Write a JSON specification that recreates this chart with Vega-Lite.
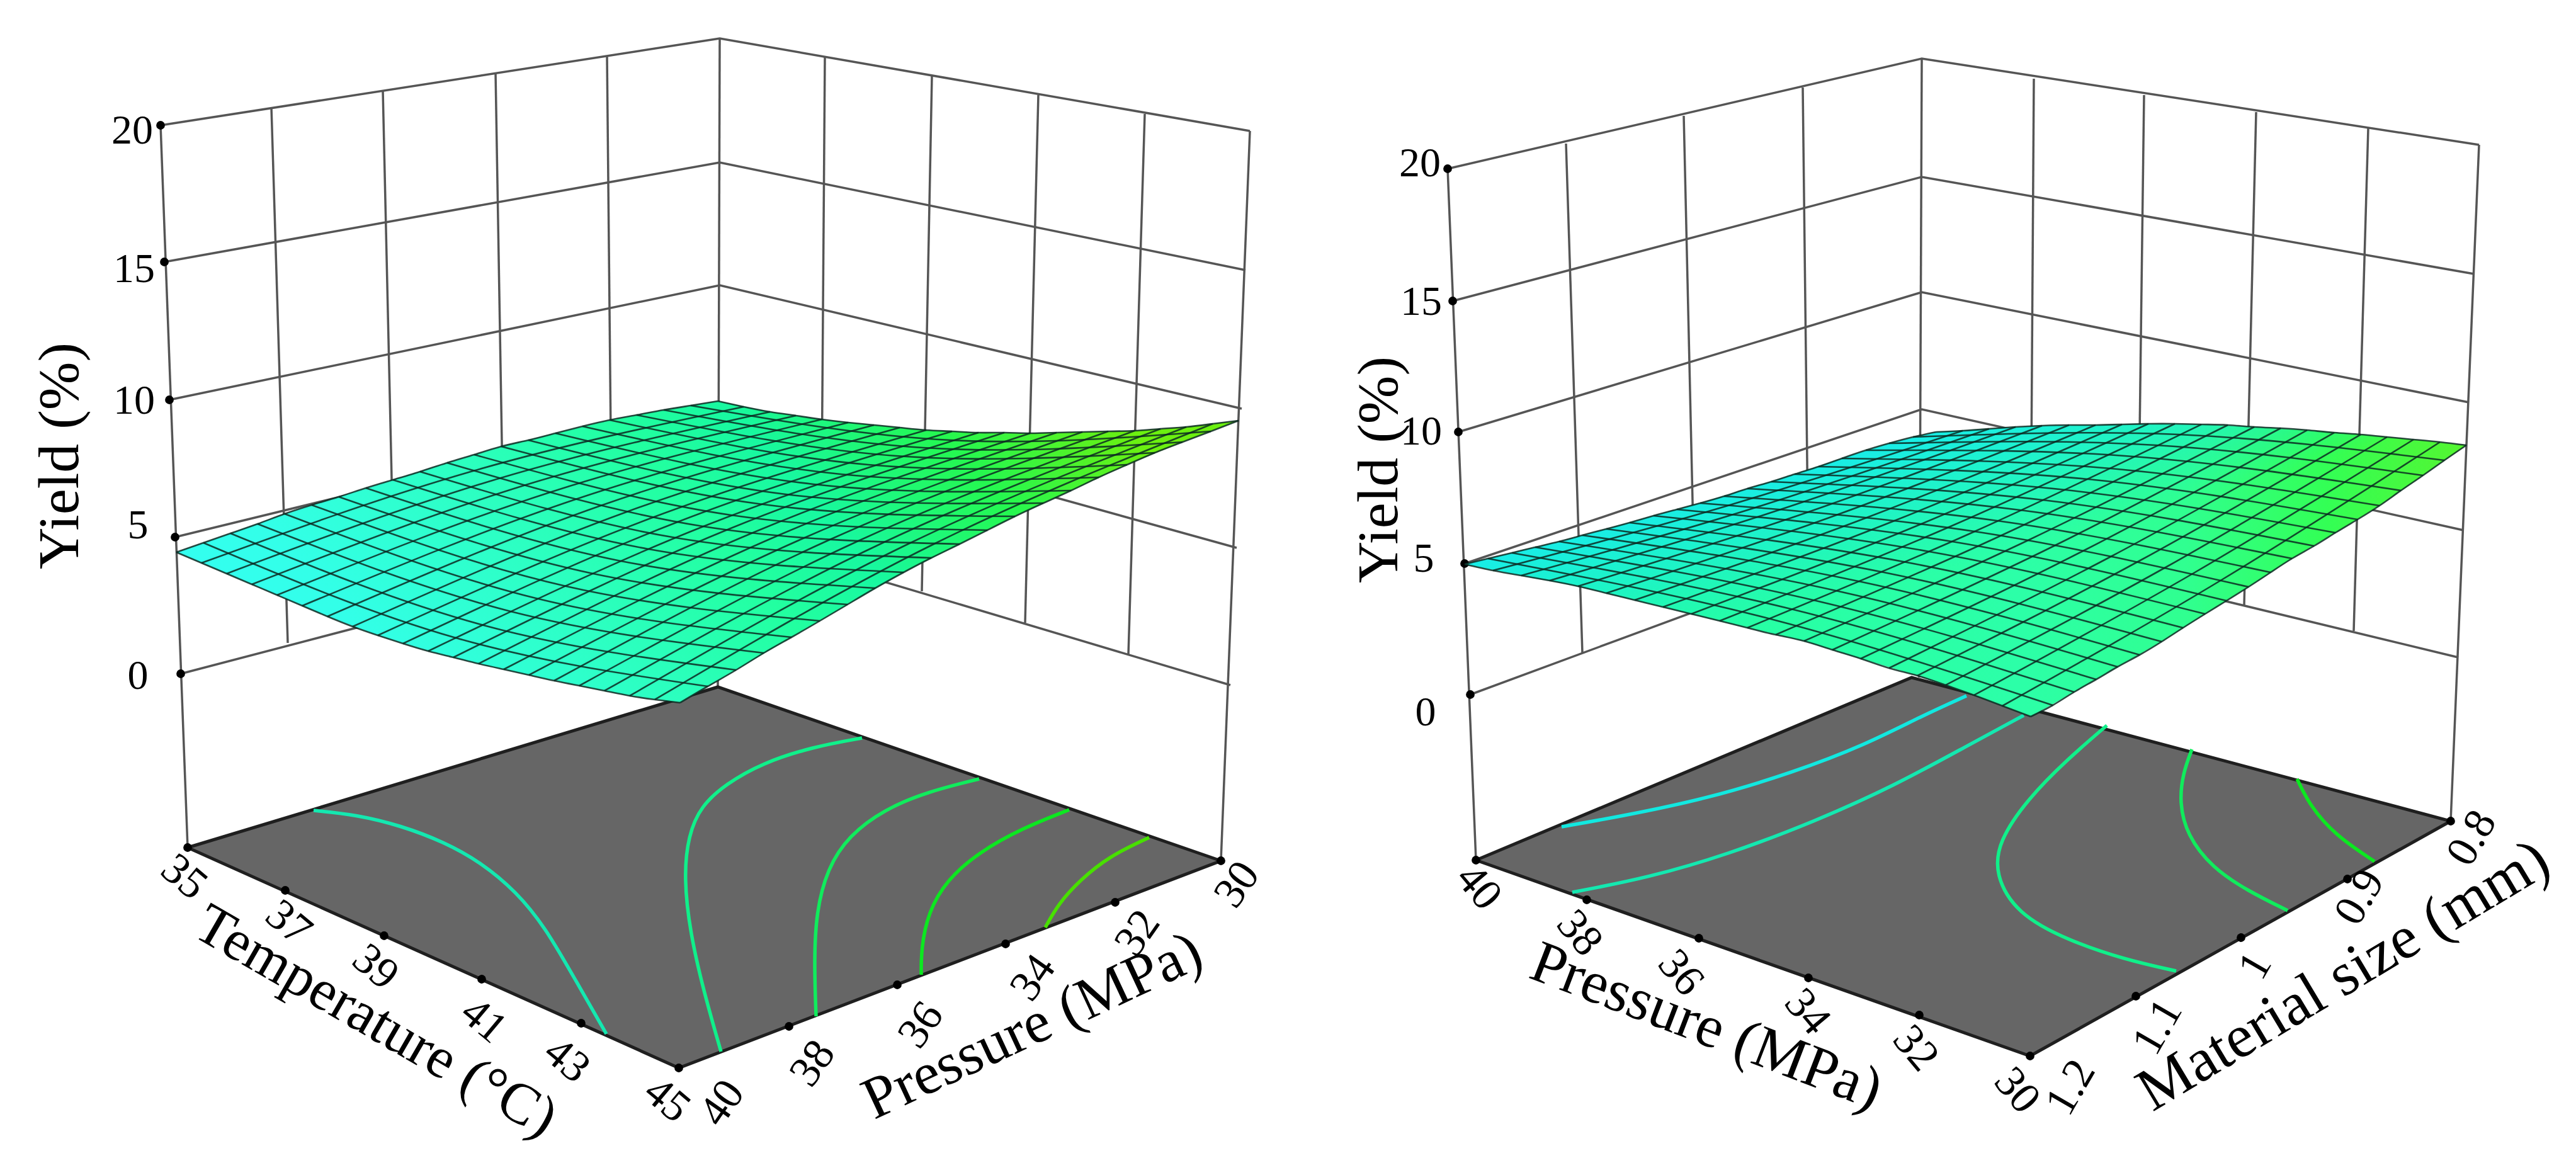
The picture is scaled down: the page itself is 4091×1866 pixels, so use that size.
{"$schema":"https://vega.github.io/schema/vega-lite/v6.json","width":4091,"height":1866,"autosize":{"type":"fit","contains":"padding"},"padding":0,"background":"white","config":{"view":{"stroke":null}},
"datasets":{
"walls":[
{"id":"a20","x":[255,1143,1985],"y":[199,61,208]},{"id":"a15","x":[261,1143,1978],"y":[416,258,429]},{"id":"a10","x":[269,1143,1972],"y":[635,453,649]},{"id":"a5","x":[278,1143,1964],"y":[853,642,870]},{"id":"a0","x":[287,1143,1954],"y":[1070,846,1088]},
{"id":"ae1","x":[255,298],"y":[199,1346]},{"id":"ae2","x":[1143,1140],"y":[61,1091]},{"id":"ae3","x":[1985,1939],"y":[208,1367]},
{"id":"av1","x":[431,457],"y":[171,1021]},{"id":"av2","x":[608,627],"y":[144,980]},{"id":"av3","x":[787,801],"y":[116,937]},{"id":"av4","x":[964,972],"y":[88,894]},{"id":"av5","x":[1310,1304],"y":[91,895]},{"id":"av6","x":[1480,1464],"y":[121,939]},{"id":"av7","x":[1649,1628],"y":[151,989]},{"id":"av8","x":[1818,1792],"y":[181,1039]},
{"id":"b20","x":[2299,3052,3937],"y":[268,93,230]},{"id":"b15","x":[2307,3052,3929],"y":[478,281,435]},{"id":"b10","x":[2316,3052,3921],"y":[686,464,639]},{"id":"b5","x":[2326,3052,3912],"y":[895,650,842]},{"id":"b0","x":[2335,3052,3904],"y":[1103,838,1044]},
{"id":"be1","x":[2299,2344],"y":[268,1366]},{"id":"be2","x":[3052,3048],"y":[93,1076]},{"id":"be3","x":[3937,3892],"y":[230,1304]},
{"id":"bv1","x":[2487,2513],"y":[228,1037]},{"id":"bv2","x":[2674,2692],"y":[184,971]},{"id":"bv3","x":[2863,2872],"y":[139,905]},{"id":"bv4","x":[3230,3225],"y":[125,879]},{"id":"bv5","x":[3405,3395],"y":[151,920]},{"id":"bv6","x":[3583,3564],"y":[178,961]},{"id":"bv7","x":[3761,3738],"y":[204,1002]}],
"floors":[{"id":"a","x":[298,1140,1939,1078,298],"y":[1346,1091,1367,1696,1346]},{"id":"b","x":[2344,3036,3892,3224,2344],"y":[1366,1076,1304,1677,1366]}],
"contours":[
{"id":"a1","level":"a","x":[498,567,636,705,763,820,866,912,963],"y":[1287,1294,1311,1337,1369,1416,1473,1553,1642]},
{"id":"a2","level":"b","x":[1369,1291,1210,1153,1113,1093,1086,1096,1118,1145],"y":[1172,1186,1212,1245,1280,1327,1393,1482,1576,1670]},
{"id":"a3","level":"c","x":[1555,1474,1405,1348,1314,1296,1293,1296],"y":[1237,1257,1285,1327,1379,1449,1529,1614]},
{"id":"a4","level":"d","x":[1698,1624,1555,1503,1474,1463,1463],"y":[1286,1315,1353,1398,1449,1506,1548]},
{"id":"a5","level":"e","x":[1825,1761,1715,1681,1660],"y":[1330,1360,1398,1435,1473]},
{"id":"b1","level":"f","x":[3123,3054,2962,2847,2709,2571,2480],"y":[1105,1136,1183,1227,1269,1297,1313]},
{"id":"b2","level":"a","x":[3214,3123,3008,2881,2744,2617,2497],"y":[1136,1185,1248,1305,1357,1394,1417]},
{"id":"b3","level":"b","x":[3346,3283,3220,3174,3168,3203,3283,3375,3456],"y":[1152,1206,1269,1336,1389,1451,1493,1524,1542]},
{"id":"b4","level":"c","x":[3481,3467,3461,3473,3513,3570,3633],"y":[1190,1227,1274,1326,1378,1415,1446]},
{"id":"b5","level":"d","x":[3648,3668,3708,3771],"y":[1237,1279,1326,1368]}],
"dots":[
{"x":255,"y":199},{"x":261,"y":416},{"x":269,"y":635},{"x":278,"y":853},{"x":287,"y":1070},
{"x":298,"y":1346},{"x":453,"y":1414},{"x":610,"y":1486},{"x":765,"y":1555},{"x":923,"y":1625},{"x":1078,"y":1696},{"x":1253,"y":1630},{"x":1425,"y":1564},{"x":1597,"y":1499},{"x":1771,"y":1433},{"x":1939,"y":1367},
{"x":2299,"y":268},{"x":2307,"y":478},{"x":2316,"y":686},{"x":2326,"y":895},{"x":2335,"y":1103},
{"x":2344,"y":1366},{"x":2520,"y":1429},{"x":2698,"y":1490},{"x":2872,"y":1553},{"x":3048,"y":1612},{"x":3224,"y":1677},{"x":3392,"y":1582},{"x":3559,"y":1489},{"x":3728,"y":1396},{"x":3892,"y":1304}],
"surfaceA":[{"id":"a","x":[280,366,452,538,624,710,796,882,968,1054,1140,1223,1305,1388,1471,1554,1636,1719,1802,1884,1967,1878,1790,1701,1612,1524,1435,1346,1257,1169,1080,1000,920,840,760,680,600,520,440,360,280],"y":[877,847,816,789,762,735,709,688,667,651,637,654,666,675,683,687,688,686,684,678,668,702,738,779,820,864,909,960,1012,1064,1116,1105,1089,1072,1054,1034,1009,979,945,911,877]}],
"surfaceB":[{"id":"b","x":[2326,2401,2476,2551,2626,2700,2775,2850,2925,3000,3075,3159,3243,3328,3412,3496,3580,3664,3749,3833,3917,3848,3779,3709,3640,3571,3502,3433,3363,3294,3225,3135,3045,2955,2865,2775,2686,2596,2506,2416,2326],"y":[896,878,860,840,819,799,776,753,728,704,686,681,676,675,673,674,678,683,690,698,707,755,803,846,887,932,975,1019,1059,1099,1138,1104,1073,1046,1018,997,975,953,931,914,896]}],
"mesh":[
{"id":"aU0","x":[280,323,366,409,452,495,538,581,624,667,710,753,796,839,882,925,968,1011,1054,1097,1140],"y":[877,862,847,832,816,802,789,775,762,749,735,722,709,699,688,677,667,659,651,644,637]},
{"id":"aU20","x":[1080,1124,1169,1213,1257,1302,1346,1390,1435,1479,1524,1568,1612,1657,1701,1745,1790,1834,1878,1923,1967],"y":[1116,1090,1064,1037,1012,986,960,934,909,886,864,842,820,799,779,758,738,719,702,685,668]},
{"id":"aV0","x":[280,320,360,400,440,480,520,560,600,640,680,720,760,800,840,880,920,960,1000,1040,1080],"y":[877,894,911,928,945,962,979,995,1009,1022,1034,1044,1054,1063,1072,1081,1089,1097,1105,1111,1116]},
{"id":"aV20","x":[1140,1181,1223,1264,1305,1347,1388,1429,1471,1512,1554,1595,1636,1678,1719,1760,1802,1843,1884,1926,1967],"y":[637,646,654,660,666,671,675,679,683,685,687,687,688,687,686,685,684,681,678,673,668]},
{"id":"aU1","x":[320,751,1181],"y":[894,748,646]},{"id":"aU2","x":[360,792,1223],"y":[911,760,654]},{"id":"aU3","x":[400,832,1264],"y":[928,771,660]},{"id":"aU4","x":[440,873,1305],"y":[945,782,666]},{"id":"aU5","x":[480,914,1347],"y":[962,793,671]},{"id":"aU6","x":[520,954,1388],"y":[979,803,675]},{"id":"aU7","x":[560,995,1429],"y":[995,813,679]},{"id":"aU8","x":[600,1036,1471],"y":[1009,822,683]},{"id":"aU9","x":[640,1076,1512],"y":[1022,829,685]},{"id":"aU10","x":[680,1117,1554],"y":[1034,836,687]},{"id":"aU11","x":[720,1158,1595],"y":[1044,840,687]},{"id":"aU12","x":[760,1198,1636],"y":[1054,845,688]},{"id":"aU13","x":[800,1239,1678],"y":[1063,849,687]},{"id":"aU14","x":[840,1280,1719],"y":[1072,853,686]},{"id":"aU15","x":[880,1320,1760],"y":[1081,856,685]},{"id":"aU16","x":[920,1361,1802],"y":[1089,860,684]},{"id":"aU17","x":[960,1402,1843],"y":[1097,862,681]},{"id":"aU18","x":[1000,1442,1884],"y":[1105,864,678]},{"id":"aU19","x":[1040,1483,1926],"y":[1111,864,673]},
{"id":"aV1","x":[323,724,1124],"y":[862,1013,1090]},{"id":"aV2","x":[366,768,1169],"y":[847,993,1064]},{"id":"aV3","x":[409,811,1213],"y":[832,971,1037]},{"id":"aV4","x":[452,855,1257],"y":[816,951,1012]},{"id":"aV5","x":[495,899,1302],"y":[802,931,986]},{"id":"aV6","x":[538,942,1346],"y":[789,911,960]},{"id":"aV7","x":[581,986,1390],"y":[775,891,934]},{"id":"aV8","x":[624,1030,1435],"y":[762,872,909]},{"id":"aV9","x":[667,1073,1479],"y":[749,854,886]},{"id":"aV10","x":[710,1117,1524],"y":[735,836,864]},{"id":"aV11","x":[753,1161,1568],"y":[722,818,842]},{"id":"aV12","x":[796,1204,1612],"y":[709,800,820]},{"id":"aV13","x":[839,1248,1657],"y":[699,785,799]},{"id":"aV14","x":[882,1292,1701],"y":[688,769,779]},{"id":"aV15","x":[925,1335,1745],"y":[677,753,758]},{"id":"aV16","x":[968,1379,1790],"y":[667,738,738]},{"id":"aV17","x":[1011,1423,1834],"y":[659,724,719]},{"id":"aV18","x":[1054,1466,1878],"y":[651,711,702]},{"id":"aV19","x":[1097,1510,1923],"y":[644,699,685]},
{"id":"bU0","x":[2326,2363,2401,2438,2476,2513,2551,2588,2626,2663,2700,2738,2775,2813,2850,2888,2925,2963,3000,3038,3075],"y":[896,887,878,869,860,850,840,830,819,809,799,788,776,765,753,741,728,715,704,694,686]},
{"id":"bU20","x":[3225,3260,3294,3329,3363,3398,3433,3467,3502,3536,3571,3606,3640,3675,3709,3744,3779,3813,3848,3882,3917],"y":[1138,1120,1099,1079,1059,1040,1019,997,975,954,932,909,887,867,846,825,803,779,755,731,707]},
{"id":"bV0","x":[2326,2371,2416,2461,2506,2551,2596,2641,2686,2731,2775,2820,2865,2910,2955,3000,3045,3090,3135,3180,3225],"y":[896,906,914,922,931,942,953,964,975,986,997,1008,1018,1032,1046,1061,1073,1088,1104,1121,1138]},
{"id":"bV20","x":[3075,3117,3159,3201,3243,3286,3328,3370,3412,3454,3496,3538,3580,3622,3664,3707,3749,3791,3833,3875,3917],"y":[686,684,681,678,676,675,675,674,673,673,674,675,678,680,683,687,690,694,698,702,707]},
{"id":"bU1","x":[2371,2744,3117],"y":[906,803,684]},{"id":"bU2","x":[2416,2788,3159],"y":[914,806,681]},{"id":"bU3","x":[2461,2831,3201],"y":[922,808,678]},{"id":"bU4","x":[2506,2875,3243],"y":[931,812,676]},{"id":"bU5","x":[2551,2919,3286],"y":[942,817,675]},{"id":"bU6","x":[2596,2962,3328],"y":[953,823,675]},{"id":"bU7","x":[2641,3006,3370],"y":[964,828,674]},{"id":"bU8","x":[2686,3049,3412],"y":[975,833,673]},{"id":"bU9","x":[2731,3093,3454],"y":[986,838,673]},{"id":"bU10","x":[2775,3136,3496],"y":[997,844,674]},{"id":"bU11","x":[2820,3179,3538],"y":[1008,850,675]},{"id":"bU12","x":[2865,3223,3580],"y":[1018,857,678]},{"id":"bU13","x":[2910,3266,3622],"y":[1032,865,680]},{"id":"bU14","x":[2955,3310,3664],"y":[1046,874,683]},{"id":"bU15","x":[3000,3354,3707],"y":[1061,883,687]},{"id":"bU16","x":[3045,3397,3749],"y":[1073,891,690]},{"id":"bU17","x":[3090,3441,3791],"y":[1088,900,694]},{"id":"bU18","x":[3135,3484,3833],"y":[1104,910,698]},{"id":"bU19","x":[3180,3528,3875],"y":[1121,921,702]},
{"id":"bV1","x":[2363,2812,3260],"y":[887,983,1120]},{"id":"bV2","x":[2401,2848,3294],"y":[878,968,1099]},{"id":"bV3","x":[2438,2884,3329],"y":[869,954,1079]},{"id":"bV4","x":[2476,2920,3363],"y":[860,939,1059]},{"id":"bV5","x":[2513,2956,3398],"y":[850,924,1040]},{"id":"bV6","x":[2551,2992,3433],"y":[840,909,1019]},{"id":"bV7","x":[2588,3028,3467],"y":[830,893,997]},{"id":"bV8","x":[2626,3064,3502],"y":[819,876,975]},{"id":"bV9","x":[2663,3100,3536],"y":[809,860,954]},{"id":"bV10","x":[2700,3136,3571],"y":[799,844,932]},{"id":"bV11","x":[2738,3172,3606],"y":[788,827,909]},{"id":"bV12","x":[2775,3208,3640],"y":[776,810,887]},{"id":"bV13","x":[2813,3244,3675],"y":[765,794,867]},{"id":"bV14","x":[2850,3280,3709],"y":[753,778,846]},{"id":"bV15","x":[2888,3316,3744],"y":[741,761,825]},{"id":"bV16","x":[2925,3352,3779],"y":[728,744,803]},{"id":"bV17","x":[2963,3388,3813],"y":[715,725,779]},{"id":"bV18","x":[3000,3424,3848],"y":[704,707,755]},{"id":"bV19","x":[3038,3460,3882],"y":[694,690,731]}],
"labels":[
{"t":"20","axis":"z","x":210,"y":208},{"t":"15","axis":"z","x":213,"y":428},{"t":"10","axis":"z","x":213,"y":637},{"t":"5","axis":"z","x":219,"y":835},{"t":"0","axis":"z","x":219,"y":1074},
{"t":"Yield (%)","axis":"zt","x":96,"y":724},
{"t":"35","axis":"temp","x":292,"y":1393},{"t":"37","axis":"temp","x":458,"y":1466},{"t":"39","axis":"temp","x":596,"y":1536},{"t":"41","axis":"temp","x":768,"y":1621},{"t":"43","axis":"temp","x":900,"y":1684},{"t":"45","axis":"temp","x":1059,"y":1747},
{"t":"40","axis":"pa","x":1147,"y":1752},{"t":"38","axis":"pa","x":1291,"y":1689},{"t":"36","axis":"pa","x":1463,"y":1628},{"t":"34","axis":"pa","x":1641,"y":1553},{"t":"32","axis":"pa","x":1807,"y":1482},{"t":"30","axis":"pa","x":1965,"y":1405},
{"t":"Temperature (°C)","axis":"tt","x":597,"y":1622},{"t":"Pressure (MPa)","axis":"tpa","x":1640,"y":1630},
{"t":"20","axis":"z","x":2255,"y":260},{"t":"15","axis":"z","x":2257,"y":480},{"t":"10","axis":"z","x":2257,"y":686},{"t":"5","axis":"z","x":2261,"y":888},{"t":"0","axis":"z","x":2264,"y":1132},
{"t":"Yield (%)","axis":"zt","x":2191,"y":746},
{"t":"40","axis":"pb","x":2348,"y":1409},{"t":"38","axis":"pb","x":2508,"y":1482},{"t":"36","axis":"pb","x":2669,"y":1545},{"t":"34","axis":"pb","x":2870,"y":1607},{"t":"32","axis":"pb","x":3042,"y":1665},{"t":"30","axis":"pb","x":3203,"y":1732},
{"t":"1.2","axis":"m","x":3289,"y":1727},{"t":"1.1","axis":"m","x":3427,"y":1631},{"t":"1","axis":"m","x":3582,"y":1534},{"t":"0.9","axis":"m","x":3748,"y":1425},{"t":"0.8","axis":"m","x":3926,"y":1331},
{"t":"Pressure (MPa)","axis":"tpb","x":2710,"y":1630},{"t":"Material size (mm)","axis":"tm","x":3722,"y":1550}]
},
"encoding":{"x":{"field":"x","type":"quantitative","scale":{"domain":[0,4091],"nice":false,"zero":false},"axis":null},"y":{"field":"y","type":"quantitative","scale":{"domain":[0,1866],"reverse":true,"nice":false,"zero":false},"axis":null}},
"layer":[
{"data":{"name":"walls"},"transform":[{"flatten":["x","y"]},{"window":[{"op":"row_number","as":"k"}],"groupby":["id"]}],"mark":{"type":"line","stroke":"#555555","strokeWidth":3.5},"encoding":{"detail":{"field":"id"},"order":{"field":"k","type":"quantitative"}}},
{"data":{"name":"floors"},"transform":[{"flatten":["x","y"]},{"window":[{"op":"row_number","as":"k"}],"groupby":["id"]}],"mark":{"type":"line","fill":"#666666","stroke":"#1f1f1f","strokeWidth":5},"encoding":{"detail":{"field":"id"},"order":{"field":"k","type":"quantitative"}}},
{"data":{"name":"contours"},"transform":[{"flatten":["x","y"]},{"window":[{"op":"row_number","as":"k"}],"groupby":["id"]}],"mark":{"type":"line","strokeWidth":5.5,"interpolate":"basis"},"encoding":{"detail":{"field":"id"},"order":{"field":"k","type":"quantitative"},"color":{"field":"level","type":"nominal","legend":null,"scale":{"domain":["a","b","c","d","e","f"],"range":["#14e8b0","#10f08a","#10ec5c","#0ce820","#48e000","#12e8e0"]}}}},
{"data":{"name":"dots"},"mark":{"type":"circle","color":"#000000","size":190,"opacity":1}},
{"data":{"name":"surfaceA"},"transform":[{"flatten":["x","y"]},{"window":[{"op":"row_number","as":"k"}],"groupby":["id"]}],"mark":{"type":"line","strokeWidth":0,"fill":{"gradient":"linear","x1":0,"y1":0.75,"x2":1,"y2":0.5,"stops":[{"offset":0,"color":"#33fff5"},{"offset":0.16,"color":"#33ffe8"},{"offset":0.38,"color":"#2cffc0"},{"offset":0.55,"color":"#22ffa0"},{"offset":0.66,"color":"#18f8a0"},{"offset":0.83,"color":"#25f850"},{"offset":1,"color":"#6cf010"}]}},"encoding":{"detail":{"field":"id"},"order":{"field":"k","type":"quantitative"}}},
{"data":{"name":"surfaceB"},"transform":[{"flatten":["x","y"]},{"window":[{"op":"row_number","as":"k"}],"groupby":["id"]}],"mark":{"type":"line","strokeWidth":0,"fill":{"gradient":"linear","x1":0,"y1":0,"x2":1,"y2":0,"stops":[{"offset":0,"color":"#22ffa0"},{"offset":0.55,"color":"#2cffa8"},{"offset":0.72,"color":"#30ff90"},{"offset":0.86,"color":"#33ff55"},{"offset":1,"color":"#55f530"}]}},"encoding":{"detail":{"field":"id"},"order":{"field":"k","type":"quantitative"}}},
{"data":{"name":"surfaceB"},"transform":[{"flatten":["x","y"]},{"window":[{"op":"row_number","as":"k"}],"groupby":["id"]}],"mark":{"type":"line","strokeWidth":0,"fill":{"gradient":"linear","x1":0,"y1":0.48,"x2":0.25,"y2":0.73,"stops":[{"offset":0,"color":"rgba(24,236,236,0.95)"},{"offset":0.5,"color":"rgba(24,236,220,0.55)"},{"offset":1,"color":"rgba(24,236,200,0)"}]}},"encoding":{"detail":{"field":"id"},"order":{"field":"k","type":"quantitative"}}},
{"data":{"name":"mesh"},"transform":[{"flatten":["x","y"]},{"window":[{"op":"row_number","as":"k"}],"groupby":["id"]}],"mark":{"type":"line","stroke":"#0c2a22","strokeWidth":2.6,"opacity":0.85,"interpolate":"natural"},"encoding":{"detail":{"field":"id"},"order":{"field":"k","type":"quantitative"}}},
{"data":{"name":"labels"},"transform":[{"filter":"datum.axis=='z'"}],"mark":{"type":"text","font":"Liberation Serif","fontSize":66,"align":"center","baseline":"middle","color":"#000000"},"encoding":{"text":{"field":"t"}}},
{"data":{"name":"labels"},"transform":[{"filter":"datum.axis=='zt'"}],"mark":{"type":"text","font":"Liberation Serif","fontSize":92,"angle":270,"align":"center","baseline":"middle","color":"#000000"},"encoding":{"text":{"field":"t"}}},
{"data":{"name":"labels"},"transform":[{"filter":"datum.axis=='temp'"}],"mark":{"type":"text","font":"Liberation Serif","fontSize":70,"angle":40,"align":"center","baseline":"middle","color":"#000000"},"encoding":{"text":{"field":"t"}}},
{"data":{"name":"labels"},"transform":[{"filter":"datum.axis=='pa'"}],"mark":{"type":"text","font":"Liberation Serif","fontSize":70,"angle":305,"align":"center","baseline":"middle","color":"#000000"},"encoding":{"text":{"field":"t"}}},
{"data":{"name":"labels"},"transform":[{"filter":"datum.axis=='pb'"}],"mark":{"type":"text","font":"Liberation Serif","fontSize":70,"angle":50,"align":"center","baseline":"middle","color":"#000000"},"encoding":{"text":{"field":"t"}}},
{"data":{"name":"labels"},"transform":[{"filter":"datum.axis=='m'"}],"mark":{"type":"text","font":"Liberation Serif","fontSize":70,"angle":300,"align":"center","baseline":"middle","color":"#000000"},"encoding":{"text":{"field":"t"}}},
{"data":{"name":"labels"},"transform":[{"filter":"datum.axis=='tt'"}],"mark":{"type":"text","font":"Liberation Serif","fontSize":92,"angle":30,"align":"center","baseline":"middle","color":"#000000"},"encoding":{"text":{"field":"t"}}},
{"data":{"name":"labels"},"transform":[{"filter":"datum.axis=='tpa'"}],"mark":{"type":"text","font":"Liberation Serif","fontSize":94,"angle":335,"align":"center","baseline":"middle","color":"#000000"},"encoding":{"text":{"field":"t"}}},
{"data":{"name":"labels"},"transform":[{"filter":"datum.axis=='tpb'"}],"mark":{"type":"text","font":"Liberation Serif","fontSize":95,"angle":21,"align":"center","baseline":"middle","color":"#000000"},"encoding":{"text":{"field":"t"}}},
{"data":{"name":"labels"},"transform":[{"filter":"datum.axis=='tm'"}],"mark":{"type":"text","font":"Liberation Serif","fontSize":97,"angle":329,"align":"center","baseline":"middle","color":"#000000"},"encoding":{"text":{"field":"t"}}}
]}
